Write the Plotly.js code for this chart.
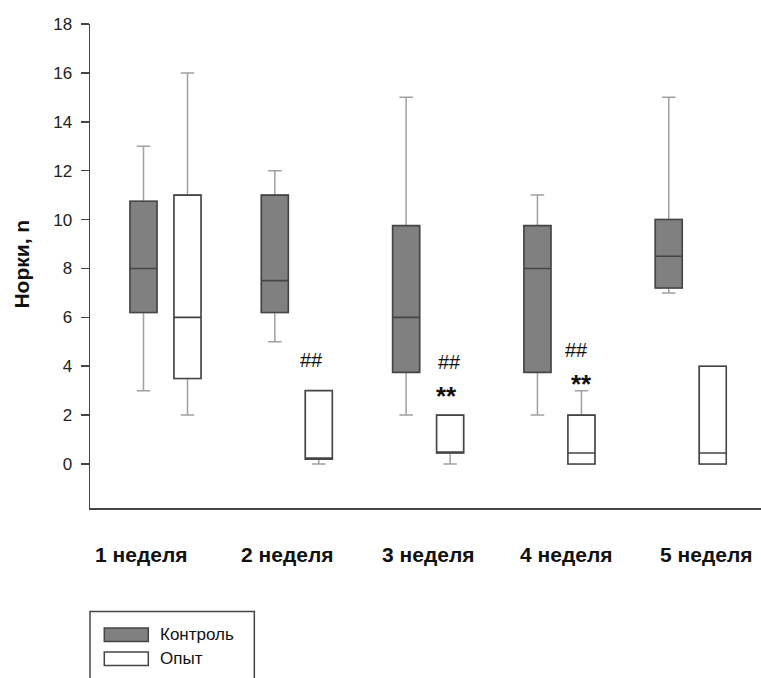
<!DOCTYPE html>
<html>
<head>
<meta charset="utf-8">
<script src="https://cdn.plot.ly/plotly-3.0.1.min.js"></script>
<style>html,body{margin:0;padding:0;background:#fff;}#chart{width:761px;height:678px;}</style>
</head>
<body>
<div id="chart"></div>
<script>
// ---- data ----
var categories = ['1 неделя', '2 неделя', '3 неделя', '4 неделя', '5 неделя'];
var seriesNames = ['Контроль', 'Опыт'];
var ctrlLow  = [3, 5, 2, 2, 7];
var ctrlQ1   = [6.2, 6.2, 3.75, 3.75, 7.2];
var ctrlMed  = [8, 7.5, 6, 8, 8.5];
var ctrlQ3   = [10.75, 11, 9.75, 9.75, 10];
var ctrlHigh = [13, 12, 15, 11, 15];
var opLow  = [2, 0, 0, 0, 0];
var opQ1   = [3.5, 0.2, 0.45, 0, 0];
var opMed  = [6, 0.2, 0.45, 0.45, 0.45];
var opQ3   = [11, 3, 2, 2, 4];
var opHigh = [16, 3, 2, 3, 4];
var yTicks = [0, 2, 4, 6, 8, 10, 12, 14, 16, 18];
var yTitle = 'Норки, n';
var hashMarks = [{cat: 1, text: '##'}, {cat: 2, text: '##'}, {cat: 3, text: '##'}];
var starMarks = [{cat: 2, text: '**'}, {cat: 3, text: '**'}];

// ---- styles ----
var fills = ['#808080', '#ffffff'];
var whiskerColor = '#a0a0a0';
var boxLine = '#454545';
var font = 'Arial, "Liberation Sans", sans-serif';

function whiskerTrace(name, q1, med, q3, lo, hi, grp) {
  return {type: 'box', name: name, x: categories, q1: q1, median: med, q3: q3,
    lowerfence: lo, upperfence: hi, boxpoints: false, offsetgroup: grp,
    line: {color: whiskerColor, width: 1.5}, fillcolor: 'rgba(0,0,0,0)',
    whiskerwidth: 1.05, showlegend: false, hoverinfo: 'skip'};
}
function boxTrace(name, q1, med, q3, fill, grp) {
  return {type: 'box', name: name, x: categories, q1: q1, median: med, q3: q3,
    lowerfence: q1, upperfence: q3, boxpoints: false, offsetgroup: grp,
    line: {color: boxLine, width: 1.6}, fillcolor: fill,
    whiskerwidth: 0, showlegend: false};
}

var data = [
  whiskerTrace(seriesNames[0], ctrlQ1, ctrlMed, ctrlQ3, ctrlLow, ctrlHigh, 'c'),
  whiskerTrace(seriesNames[1], opQ1, opMed, opQ3, opLow, opHigh, 'o'),
  boxTrace(seriesNames[0], ctrlQ1, ctrlMed, ctrlQ3, fills[0], 'c'),
  boxTrace(seriesNames[1], opQ1, opMed, opQ3, fills[1], 'o')
];

var annotations = [];
// category labels
var labelShift = [-0.187, -0.076, 0.0, 0.05, 0.116];
categories.forEach(function (c, i) {
  annotations.push({xref: 'x', yref: 'paper', x: i + labelShift[i], y: -0.097,
    text: '<b>' + c + '</b>', showarrow: false, xanchor: 'center', yanchor: 'middle',
    font: {family: font, size: 21, color: '#111'}});
});
// y title
annotations.push({xref: 'paper', yref: 'paper', x: -0.1013, y: 0.503, textangle: -90,
  text: '<b>' + yTitle + '</b>', showarrow: false, xanchor: 'center', yanchor: 'middle',
  font: {family: font, size: 21, color: '#111'}});
// significance marks
var hashPos = {1: [1.108, 4.27], 2: [2.161, 4.19], 3: [3.132, 4.68]};
hashMarks.forEach(function (m) {
  annotations.push({xref: 'x', yref: 'y', x: hashPos[m.cat][0], y: hashPos[m.cat][1],
    text: m.text, showarrow: false, xanchor: 'center', yanchor: 'middle',
    font: {family: font, size: 20, color: '#111'}});
});
var starPos = {2: [2.142, 2.8], 3: [3.165, 3.28]};
starMarks.forEach(function (m) {
  annotations.push({xref: 'x', yref: 'y', x: starPos[m.cat][0], y: starPos[m.cat][1],
    text: '<b>' + m.text + '</b>', showarrow: false, xanchor: 'center', yanchor: 'middle',
    font: {family: font, size: 26, color: '#111'}});
});
// legend (drawn)
var legY = [-0.2618, -0.3114];
var shapes = [{type: 'rect', xref: 'paper', yref: 'paper', x0: 0, x1: 0.2449, y0: -0.2136, y1: -0.45,
  line: {color: '#454545', width: 1.5}, fillcolor: 'rgba(0,0,0,0)'}];
seriesNames.forEach(function (n, i) {
  shapes.push({type: 'rect', xref: 'paper', yref: 'paper', x0: 0.0213, x1: 0.0869,
    y0: legY[i] + 0.0138, y1: legY[i] - 0.0138, line: {color: boxLine, width: 1.5}, fillcolor: fills[i]});
  annotations.push({xref: 'paper', yref: 'paper', x: 0.1018, y: legY[i], text: n, showarrow: false,
    xanchor: 'left', yanchor: 'middle', font: {family: font, size: 17, color: '#111'}});
});

var layout = {
  width: 761, height: 678,
  margin: {l: 90, r: 0, t: 24, b: 170, pad: 0},
  paper_bgcolor: '#fff', plot_bgcolor: '#fff',
  boxmode: 'group', boxgap: 0.33, boxgroupgap: 0.386,
  showlegend: false,
  xaxis: {type: 'category', range: [-0.575, 4.535], showline: true, linecolor: '#454545', linewidth: 1.5,
    showticklabels: false, ticks: '', showgrid: false, zeroline: false, fixedrange: true},
  yaxis: {range: [-1.8, 18], tickvals: yTicks, ticktext: yTicks.map(String), ticks: 'outside', ticklen: 8,
    tickwidth: 1.5, tickcolor: '#454545', showline: true, linecolor: '#454545', linewidth: 1.5,
    showgrid: false, zeroline: false, ticklabelstandoff: 5,
    tickfont: {family: font, size: 17, color: '#222'}},
  annotations: annotations,
  shapes: shapes
};

Plotly.newPlot('chart', data, layout, {displayModeBar: false, staticPlot: true});
</script>
</body>
</html>
